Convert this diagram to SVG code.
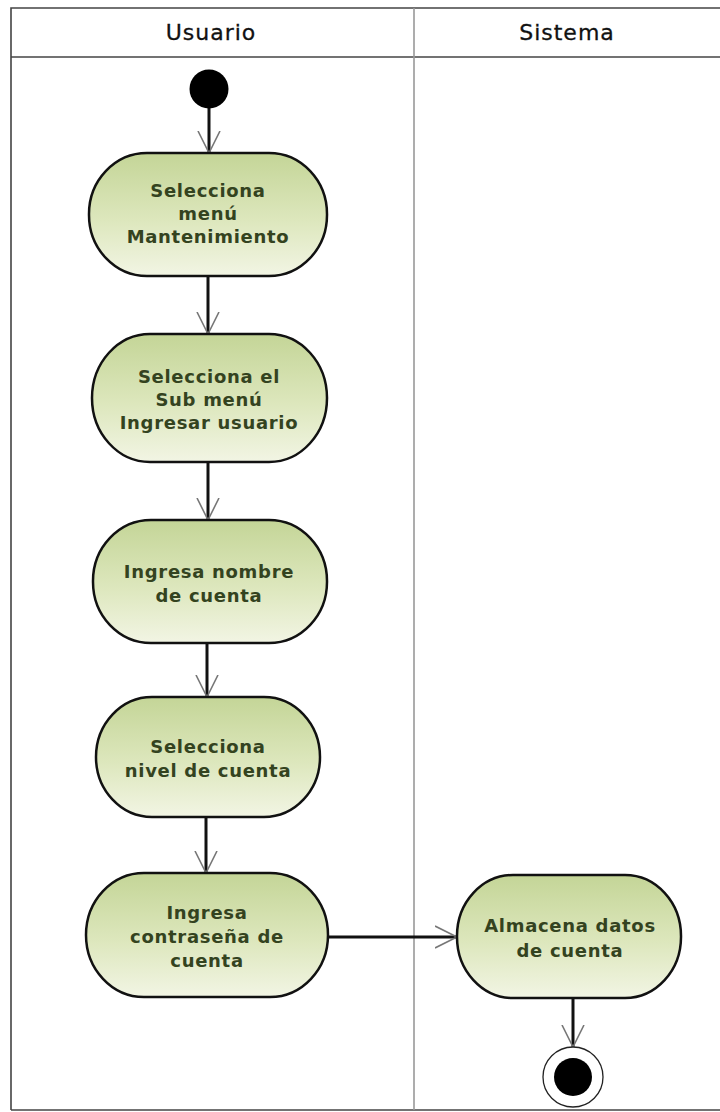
<svg xmlns="http://www.w3.org/2000/svg" width="720" height="1112" viewBox="0 0 720 1112">
  <defs>
    <linearGradient id="actFill" x1="0" y1="0" x2="0" y2="1">
      <stop offset="0" stop-color="#c4d597"/>
      <stop offset="0.55" stop-color="#dde7bd"/>
      <stop offset="1" stop-color="#f2f5e4"/>
    </linearGradient>
    <marker id="openArrow" viewBox="0 0 24 24" refX="22" refY="12" markerWidth="24" markerHeight="24" markerUnits="userSpaceOnUse" orient="auto">
      <path d="M0,1 L22,12 L0,23" fill="none" stroke="#777" stroke-width="1.6"/>
    </marker>
    <style>
      .lane { fill: none; stroke: #444; stroke-width: 1.6; }
      .divider { stroke: #999; stroke-width: 1.6; }
      .header { font-family: "DejaVu Sans", Verdana, sans-serif; font-size: 22px; fill: #111; text-anchor: middle; letter-spacing: 1px; stroke: #111; stroke-width: 0.3; }
      .act { fill: url(#actFill); stroke: #111; stroke-width: 2.5; }
      .label { font-family: "DejaVu Sans", Verdana, sans-serif; font-size: 18px; font-weight: bold; fill: #34431f; text-anchor: middle; letter-spacing: 0.7px; }
      .flow { fill: none; stroke: #111; stroke-width: 3; marker-end: url(#openArrow); }
    </style>
  </defs>

  <rect width="720" height="1112" fill="#fff"/>

  <!-- swimlanes -->
  <g id="lanes">
    <path class="lane" d="M11,1110 L11,8 L722,8"/>
    <line class="lane" x1="11" y1="1110" x2="722" y2="1110"/>
    <line class="lane" x1="11" y1="57" x2="722" y2="57"/>
    <line class="divider" x1="414" y1="8" x2="414" y2="1110"/>
    <text class="header" x="211" y="40">Usuario</text>
    <text class="header" x="567" y="40">Sistema</text>
  </g>

  <!-- control flows -->
  <g id="connectors">
    <line class="flow" x1="209" y1="108" x2="209" y2="153"/>
    <line class="flow" x1="208" y1="276" x2="208" y2="334"/>
    <line class="flow" x1="208" y1="462" x2="208" y2="520"/>
    <line class="flow" x1="207" y1="643" x2="207" y2="697"/>
    <line class="flow" x1="206" y1="817" x2="206" y2="873"/>
    <line class="flow" x1="328" y1="937" x2="457" y2="937"/>
    <line class="flow" x1="573" y1="998" x2="573" y2="1047"/>
  </g>

  <g id="start">
    <circle cx="209" cy="89" r="19.5" fill="#000"/>
  </g>

  <g id="n1">
    <rect class="act" x="89" y="153" width="238" height="123" rx="58" ry="61"/>
    <text class="label" x="208" y="197">Selecciona</text>
    <text class="label" x="208" y="220">menú</text>
    <text class="label" x="208" y="243">Mantenimiento</text>
  </g>

  <g id="n2">
    <rect class="act" x="92" y="334" width="235" height="128" rx="58" ry="64"/>
    <text class="label" x="209" y="383">Selecciona el</text>
    <text class="label" x="209" y="406">Sub menú</text>
    <text class="label" x="209" y="429">Ingresar usuario</text>
  </g>

  <g id="n3">
    <rect class="act" x="93" y="520" width="234" height="123" rx="58" ry="61"/>
    <text class="label" x="209" y="578">Ingresa nombre</text>
    <text class="label" x="209" y="602">de cuenta</text>
  </g>

  <g id="n4">
    <rect class="act" x="96" y="697" width="224" height="120" rx="56" ry="60"/>
    <text class="label" x="208" y="753">Selecciona</text>
    <text class="label" x="208" y="777">nivel de cuenta</text>
  </g>

  <g id="n5">
    <rect class="act" x="86" y="873" width="242" height="124" rx="58" ry="62"/>
    <text class="label" x="207" y="919">Ingresa</text>
    <text class="label" x="207" y="943">contraseña de</text>
    <text class="label" x="207" y="967">cuenta</text>
  </g>

  <g id="n6">
    <rect class="act" x="457" y="875" width="224" height="123" rx="56" ry="61"/>
    <text class="label" x="570" y="932">Almacena datos</text>
    <text class="label" x="570" y="957">de cuenta</text>
  </g>

  <g id="end">
    <circle cx="573" cy="1077" r="30" fill="#fff" stroke="#222" stroke-width="1.3"/>
    <circle cx="573" cy="1077" r="19" fill="#000"/>
  </g>
</svg>
